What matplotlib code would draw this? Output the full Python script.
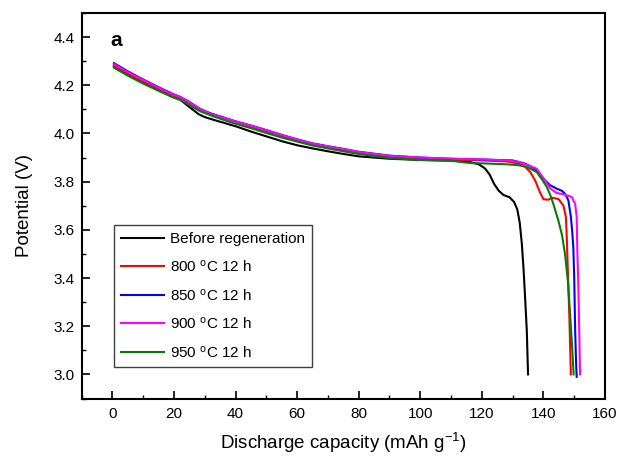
import matplotlib
matplotlib.use("Agg")
import matplotlib.pyplot as plt
from matplotlib.ticker import MultipleLocator

plt.rcParams['font.family'] = ['Liberation Sans', 'DejaVu Sans']
plt.rcParams['mathtext.fontset'] = 'custom'
plt.rcParams['mathtext.rm'] = 'Liberation Sans'
plt.rcParams['mathtext.it'] = 'Liberation Sans:italic'

labels = ["Before regeneration", r"800 $^{\mathregular{o}}$C 12 h", r"850 $^{\mathregular{o}}$C 12 h",
          r"900 $^{\mathregular{o}}$C 12 h", r"950 $^{\mathregular{o}}$C 12 h"]
colors = ["#000000", "#ff0000", "#0000ff", "#ff00ff", "#008000"]

x_before = [0.5, 5, 10, 15, 20, 22, 24, 26, 28, 30, 33, 36, 40, 45, 50, 55, 60, 65, 70, 75, 80, 90, 100,
            110, 116, 119, 121, 122.5, 124, 125.5, 127, 129, 130.5, 131.5, 132.3, 133, 133.5, 134, 134.6, 135.0]
y_before = [4.28, 4.245, 4.21, 4.18, 4.15, 4.14, 4.12, 4.10, 4.08, 4.068, 4.056, 4.045, 4.03, 4.008, 3.988,
            3.968, 3.951, 3.938, 3.926, 3.915, 3.905, 3.895, 3.890, 3.887, 3.882, 3.872, 3.855, 3.83, 3.79,
            3.762, 3.745, 3.735, 3.715, 3.685, 3.63, 3.54, 3.445, 3.33, 3.18, 3.0]

x_800 = [0.5, 5, 10, 15, 20, 22, 25, 28, 30, 35, 40, 45, 50, 55, 60, 65, 70, 75, 80, 90, 100, 110, 120,
         128, 132, 134, 135.7, 137.3, 138.9, 140, 141.6, 142.7, 144.9, 146.5, 147.3, 147.6, 148.0, 148.4, 148.9]
y_800 = [4.282, 4.25, 4.215, 4.185, 4.155, 4.146, 4.127, 4.103, 4.092, 4.069, 4.049, 4.029, 4.009, 3.99,
         3.969, 3.954, 3.941, 3.929, 3.919, 3.903, 3.896, 3.892, 3.888, 3.884, 3.875, 3.862, 3.84, 3.805,
         3.755, 3.727, 3.725, 3.733, 3.728, 3.70, 3.653, 3.56, 3.40, 3.25, 3.0]

x_850 = [0.5, 5, 10, 15, 20, 22, 25, 28.5, 32, 35, 39.3, 45, 50, 55, 61, 65, 70, 75, 80, 90, 100, 110,
         120, 130, 134, 136, 137.8, 139.2, 140.5, 142.2, 144.3, 146, 147, 148.1, 148.9, 149.3, 149.7,
         150.0, 150.3, 150.6, 150.8]
y_850 = [4.292, 4.258, 4.224, 4.192, 4.162, 4.152, 4.131, 4.102, 4.082, 4.071, 4.053, 4.033, 4.014, 3.994,
         3.972, 3.959, 3.947, 3.936, 3.924, 3.908, 3.900, 3.895, 3.892, 3.888, 3.875, 3.862, 3.847, 3.825,
         3.805, 3.785, 3.771, 3.762, 3.750, 3.722, 3.655, 3.60, 3.528, 3.40, 3.183, 3.05, 2.99]

x_900 = [0.5, 5, 10, 15, 20, 22, 25, 28.5, 32, 35, 39.3, 45, 50, 55, 61, 65, 70, 75, 80, 90, 100, 110,
         120, 128, 132, 135, 137.8, 140.5, 142.2, 144.3, 147, 149.2, 150.3, 150.8, 151.0, 151.3, 151.6, 151.9]
y_900 = [4.288, 4.255, 4.222, 4.19, 4.16, 4.151, 4.13, 4.101, 4.08, 4.07, 4.052, 4.032, 4.013, 3.993,
         3.971, 3.958, 3.946, 3.935, 3.923, 3.907, 3.900, 3.895, 3.892, 3.888, 3.882, 3.868, 3.854, 3.805,
         3.772, 3.753, 3.746, 3.736, 3.708, 3.653, 3.515, 3.39, 3.2, 3.0]

x_950 = [0.5, 5, 10, 15, 20, 22, 25, 28.5, 33, 39.3, 45, 50, 55, 61, 65, 70, 75, 80, 90, 100, 110, 116.2,
         120, 128, 132, 134.6, 137.8, 139.5, 141.1, 142.2, 143.2, 144.9, 146.0, 147.0, 148.0, 148.8, 149.3, 149.8]
y_950 = [4.273, 4.24, 4.207, 4.177, 4.148, 4.14, 4.118, 4.092, 4.07, 4.043, 4.022, 4.002, 3.983, 3.963,
         3.95, 3.938, 3.926, 3.915, 3.898, 3.890, 3.887, 3.877, 3.876, 3.872, 3.868, 3.861, 3.84, 3.81,
         3.778, 3.745, 3.708, 3.636, 3.58, 3.50, 3.38, 3.22, 3.12, 3.0]

series_x = [x_before, x_800, x_850, x_900, x_950]
series_y = [y_before, y_800, y_850, y_900, y_950]

fig = plt.figure(figsize=(6.18, 4.57), dpi=100)
ax = fig.add_axes([0.132, 0.128, 0.847, 0.8436])

for xs, ys, c, lab in zip(series_x, series_y, colors, labels):
    ax.plot(xs, ys, color=c, lw=1.5, label=lab)

ax.set_xlim(-10, 160)
ax.set_ylim(2.9, 4.5)
ax.xaxis.set_major_locator(MultipleLocator(20))
ax.xaxis.set_minor_locator(MultipleLocator(10))
ax.yaxis.set_major_locator(MultipleLocator(0.2))
ax.yaxis.set_minor_locator(MultipleLocator(0.1))
ax.yaxis.set_major_formatter(matplotlib.ticker.FormatStrFormatter('%.1f'))

ax.tick_params(which='major', direction='in', length=5.5, width=1.2, labelsize=11, pad=5)
ax.tick_params(which='minor', direction='in', length=3, width=1.0)
ax.tick_params(axis='x', which='major', pad=6)
for s in ax.spines.values():
    s.set_linewidth(1.5)

ax.set_xlabel(r"Discharge capacity (mAh g$^{\mathregular{-1}}$)", fontsize=13.5, labelpad=7)
ax.set_ylabel("Potential (V)", fontsize=13.5, labelpad=15)

ax.text(0.0655, 0.928, "a", transform=ax.transAxes, fontsize=15, fontweight='bold', ha='center', va='center')

leg = ax.legend(loc='lower left', bbox_to_anchor=(0.0617, 0.0812), borderaxespad=0, fontsize=11,
                handlelength=2.8, handletextpad=0.4, labelspacing=0.82, borderpad=0.45,
                fancybox=False, framealpha=1, edgecolor='#404040')
leg.get_frame().set_linewidth(1.0)

fig.savefig("out.png", dpi=100)
